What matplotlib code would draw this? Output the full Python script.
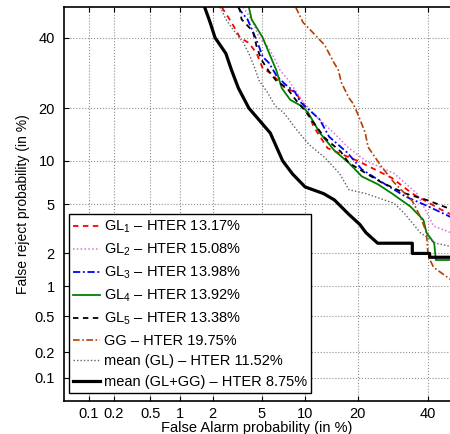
import math
from statistics import NormalDist

import numpy as np
import matplotlib
matplotlib.use("Agg")
import matplotlib.pyplot as plt

plt.rcParams['font.family'] = ['Liberation Sans', 'DejaVu Sans']
plt.rcParams['mathtext.fontset'] = 'custom'
plt.rcParams['mathtext.rm'] = 'Liberation Sans'
plt.rcParams['mathtext.default'] = 'regular'

# DET curves, false alarm (%) vs false reject (%)
gl1_fa = [2.4, 2.9, 3.4, 4.0, 4.6, 5.1, 5.9, 7.4, 8.6, 10.2, 11.3, 13.7, 16.5, 20, 23.5, 29, 35, 40.5, 44, 47.5]
gl1_fr = [50, 45, 40, 38.3, 35, 30.5, 29, 25, 24, 20, 16, 12, 11, 10, 9, 7.7, 6, 5.1, 4.6, 4.2]

gl2_fa = [3.6, 3.9, 4.3, 4.8, 5.6, 6.3, 6.8, 8.0, 8.8, 9.7, 11.8, 14.8, 18, 22, 29.5, 36.5, 41.8, 47.5]
gl2_fr = [50, 48, 45, 40, 37, 33, 30, 26.5, 24, 21.5, 18, 14.8, 12, 10, 8.3, 6, 3.4, 3.0]

gl3_fa = [3.3, 3.4, 3.9, 4.5, 4.8, 5.1, 5.7, 6.4, 7.4, 8.6, 9.3, 12.3, 14, 17.6, 21, 27, 33, 39.5, 47.5]
gl3_fr = [50, 49, 46, 40, 37, 34, 32, 28.5, 26, 24, 21.5, 17.5, 14, 11.3, 8.8, 7.0, 5.7, 4.9, 4.0]

gl4_fa = [4.0, 4.2, 5.1, 5.7, 6.4, 7.0, 8.0, 9.7, 10.6, 12.3, 15, 18, 21, 25, 29, 34.5, 38.5, 39.5, 42, 42.5, 47.5]
gl4_fr = [50, 46, 40, 35, 30, 25, 22, 20.3, 18.6, 14.8, 11.6, 9.7, 7.9, 7.0, 6, 4.8, 3.8, 3.0, 2.45, 1.75, 1.75]

gl5_fa = [3.3, 3.4, 3.5, 4.3, 4.6, 5.0, 5.7, 6.4, 7.6, 8.7, 10.2, 11.3, 13.2, 16.3, 18, 22, 26, 33, 39.5, 47.5]
gl5_fr = [50, 49, 46, 42, 37, 33, 29.5, 27, 25, 22, 19, 16.8, 13.8, 11.4, 9.7, 8.3, 7.2, 6.0, 5.4, 4.6]

gg_fa = [8.7, 8.9, 9.7, 10.8, 13.2, 14.8, 15.8, 16.4, 18, 19, 20, 21.8, 22.5, 26, 29.5, 35, 37.5, 39.5, 40, 41.8, 47.5]
gg_fr = [50, 49, 45, 42.5, 37.6, 32.5, 30, 26.5, 22.5, 21, 18.7, 14.8, 12.2, 9.2, 7.2, 5.3, 4.05, 3.0, 1.9, 1.5, 1.15]

mgl_fa = [2.3, 2.4, 2.6, 3.0, 3.6, 4.0, 4.4, 4.8, 5.5, 6.3, 7.2, 8.9, 10.6, 13.2, 16, 18, 22, 29.5, 32.5, 35, 37.5, 42.5, 47.5]
mgl_fr = [50, 49, 46, 42.5, 38.5, 35, 31, 27, 24, 20.5, 19, 15.2, 12.6, 10.5, 8.3, 6.4, 6.0, 5.1, 4.3, 3.6, 3.0, 2.45, 2.3]

mall_fa = [1.7, 1.9, 2.1, 2.6, 2.9, 3.3, 4.0, 5.8, 7.1, 8.3, 10, 13, 15, 18, 20.5, 22, 25, 35, 35, 40.5, 40.5, 47.5]
mall_fr = [50, 45, 40, 35, 30, 25, 20, 14.7, 10, 8.2, 6.7, 6.0, 5.4, 4.2, 3.5, 3.0, 2.45, 2.45, 2.0, 2.0, 1.85, 1.85]

labels = ['GL$_1$ – HTER 13.17%', 'GL$_2$ – HTER 15.08%', 'GL$_3$ – HTER 13.98%',
          'GL$_4$ – HTER 13.92%', 'GL$_5$ – HTER 13.38%', 'GG – HTER 19.75%',
          'mean (GL) – HTER 11.52%', 'mean (GL+GG) – HTER 8.75%']

tick_vals = [0.1, 0.2, 0.5, 1, 2, 5, 10, 20, 40]
tick_labels = ['0.1', '0.2', '0.5', '1', '2', '5', '10', '20', '40']

_nd = NormalDist()
_inv = np.vectorize(_nd.inv_cdf, otypes=[float])
_erf = np.vectorize(math.erf, otypes=[float])


def probit(p):
    p = np.clip(np.asarray(p, dtype=float) / 100.0, 1e-9, 1 - 1e-9)
    return _inv(p)


def inv_probit(z):
    return 100.0 * 0.5 * (1.0 + _erf(np.asarray(z, dtype=float) / math.sqrt(2)))


fig = plt.figure(figsize=(4.5, 4.34), dpi=100)
ax = fig.add_axes([0.142, 0.076, 0.858, 0.908])
ax.set_xscale('function', functions=(probit, inv_probit))
ax.set_yscale('function', functions=(probit, inv_probit))

styles = [
    dict(color='#ff0000', ls=(0, (3, 2.5)), lw=1.3),
    dict(color='#dd70dd', ls=(0, (1, 1.5)), lw=1.1),
    dict(color='#0000ff', ls=(0, (4, 1.5, 1, 1.5)), lw=1.3),
    dict(color='#008000', ls='-', lw=1.3),
    dict(color='#000000', ls=(0, (3, 2.5)), lw=1.3),
    dict(color='#b34000', ls=(0, (4, 1.5, 1, 1.5)), lw=1.2),
    dict(color='#606060', ls=(0, (1, 1.5)), lw=1.0),
    dict(color='#000000', ls='-', lw=2.3),
]
series = [(gl1_fa, gl1_fr), (gl2_fa, gl2_fr), (gl3_fa, gl3_fr), (gl4_fa, gl4_fr),
          (gl5_fa, gl5_fr), (gg_fa, gg_fr), (mgl_fa, mgl_fr), (mall_fa, mall_fr)]
for (fa, fr), st, lab in zip(series, styles, labels):
    ax.plot(fa, fr, label=lab, **st)

ax.set_xlim(0.049, 47.2)
ax.set_ylim(0.051, 50.1)
ax.set_xticks(tick_vals)
ax.set_xticklabels(tick_labels)
ax.set_yticks(tick_vals)
ax.set_yticklabels(tick_labels)
ax.minorticks_off()
ax.tick_params(direction='in', top=True, right=False, labelsize=10.5, length=3.5)
ax.tick_params(axis='x', pad=4.5)
ax.tick_params(axis='y', pad=6.5)
ax.grid(True, ls=':', color='#909090', lw=0.8)
for side in ['left', 'top', 'bottom']:
    ax.spines[side].set_linewidth(1.2)
ax.spines['right'].set_visible(False)

ax.set_xlabel('False Alarm probability (in %)', fontsize=10.5, labelpad=0)
ax.set_ylabel('False reject probability (in %)', fontsize=10, labelpad=3)

leg = ax.legend(loc='lower left', bbox_to_anchor=(0.013, 0.02), borderaxespad=0,
                fontsize=10.5, fancybox=False, framealpha=1, edgecolor='black',
                handlelength=1.85, handletextpad=0.25, labelspacing=0.45,
                borderpad=0.3)
leg.get_frame().set_linewidth(1.0)

fig.savefig('out.png', dpi=100)
